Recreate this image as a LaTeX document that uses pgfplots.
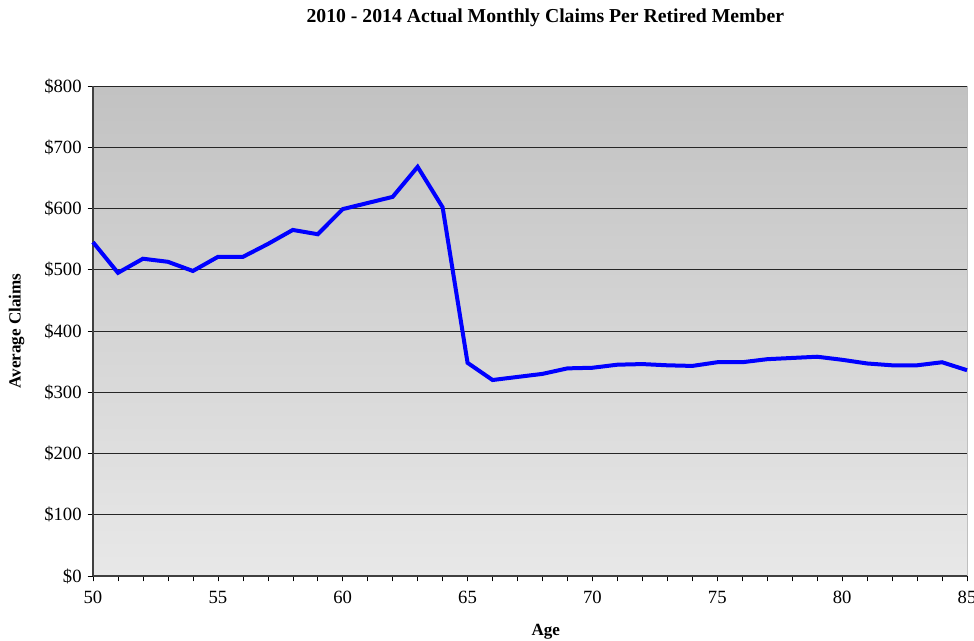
\documentclass[border=0pt]{standalone}
\usepackage{fontspec}
\setmainfont{Liberation Serif}
\usepackage{pgfplots}
\pgfplotsset{compat=1.18}
\begin{document}
\begin{tikzpicture}
\useasboundingbox (0pt,0pt) rectangle (730.5pt,480pt);
\begin{axis}[
  at={(69.75pt,48pt)}, anchor=south west,
  scale only axis, width=655.5pt, height=367.5pt,
  xmin=50, xmax=85, ymin=0, ymax=800,
  xtick={50,55,...,85}, minor xtick={50,...,85},
  ytick={0,100,...,800},
  tick align=outside,
  major tick length=4pt, minor tick length=4pt,
  tick style={black, thin},
  axis x line*=bottom, axis y line*=left,
  axis line style={black!75, line width=0.8pt},
  ymajorgrids, grid style={black!85, line width=0.7pt},
  axis background/.style={top color=black!24, bottom color=black!9, draw=black!25},
  /pgf/number format/assume math mode=true,
  yticklabel={\$\pgfmathprintnumber{\tick}},
  ticklabel style={font=\fontsize{14}{16}\selectfont},
  xticklabel style={yshift=-4pt},
  yticklabel style={xshift=-1pt},
  xlabel={\textbf{Age}}, ylabel={\textbf{Average Claims}},
  label style={font=\fontsize{12.8}{14}\selectfont},
  xlabel style={at={(axis description cs:0.518,0)}, anchor=north, yshift=-33pt},
  ylabel style={at={(axis description cs:0,0.5)}, anchor=south, yshift=48pt},
  clip=false,
]
\addplot[blue, line width=3pt, line join=miter] coordinates {
(50,545) (51,495) (52,518) (53,513) (54,498) (55,521) (56,521) (57,542)
(58,565) (59,558) (60,599) (61,609) (62,619) (63,668) (64,602) (65,348)
(66,320) (67,325) (68,330) (69,339) (70,340) (71,345) (72,346) (73,344)
(74,343) (75,349) (76,349) (77,354) (78,356) (79,358) (80,353) (81,347)
(82,344) (83,344) (84,349) (85,336)
};
\end{axis}
\node[font=\bfseries\fontsize{14.8}{16}\selectfont] at (409pt,466.5pt) {2010 - 2014 Actual Monthly Claims Per Retired Member};
\end{tikzpicture}
\end{document}
